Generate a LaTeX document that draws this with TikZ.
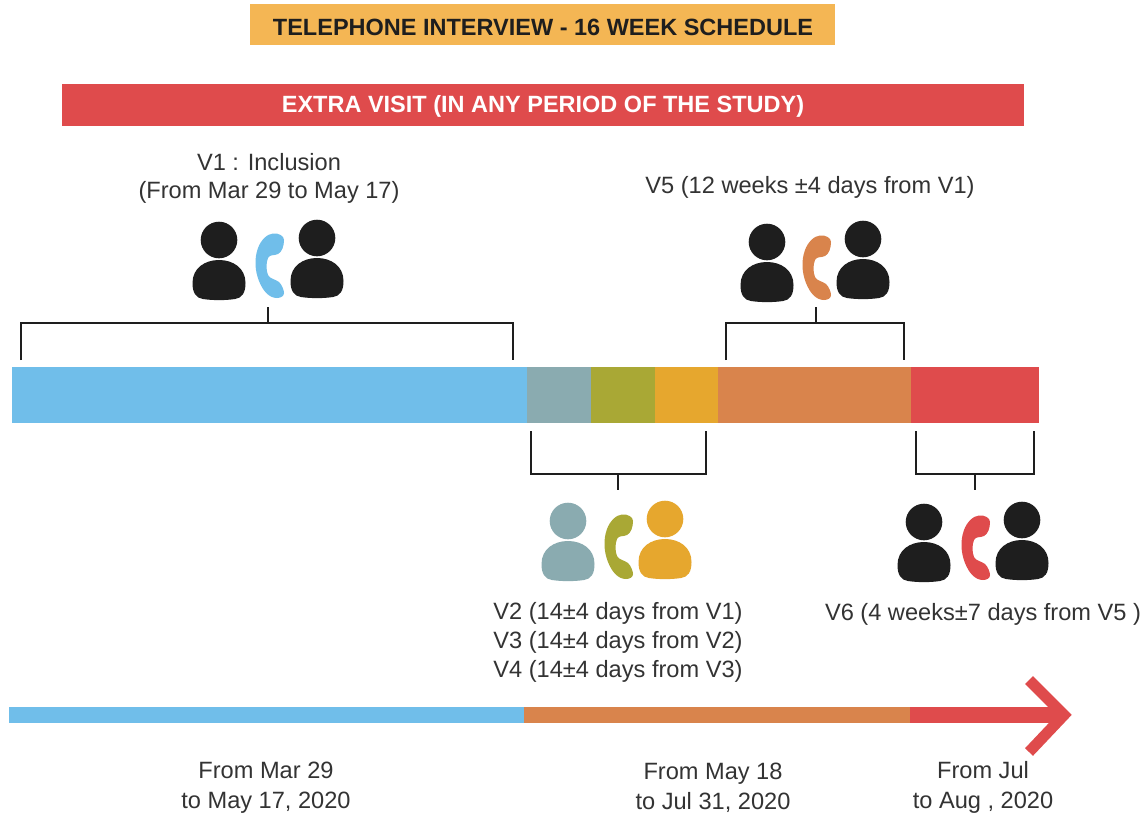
\documentclass[tikz,border=0pt]{standalone}
\usepackage{fontspec}
\setmainfont{Liberation Sans}
\definecolor{cblue}{HTML}{70BEEA}
\definecolor{cteal}{HTML}{8AABB0}
\definecolor{colive}{HTML}{A9A835}
\definecolor{cyel}{HTML}{E6A72E}
\definecolor{corg}{HTML}{D9844C}
\definecolor{cred}{HTML}{DF4B4C}
\definecolor{ctitle}{HTML}{F4B654}
\definecolor{cblk}{HTML}{1E1E1E}
\definecolor{ctxt}{HTML}{333333}
\tikzset{
  lbl/.style={text=ctxt,font=\fontsize{23.6}{29}\selectfont,align=center,inner sep=0pt},
  lblw/.style={lbl,font=\fontsize{23.6}{30}\selectfont},
  lbln/.style={lbl,font=\fontsize{23.6}{28}\selectfont},
  brk/.style={draw=cblk,line width=2.9pt,line cap=butt,line join=miter},
  pics/person/.style={code={
    \fill[#1] (0,-20) circle[radius=18.3];
    \fill[#1] (-26.5,23) .. controls (-26.5,8) and (-14,0) .. (0,0) .. controls (14,0) and (26.5,8) .. (26.5,23) .. controls (26.5,33) and (23,38) .. (16,39) .. controls (6,40.5) and (-6,40.5) .. (-16,39) .. controls (-23,38) and (-26.5,33) .. (-26.5,23) -- cycle;
  }},
  pics/phone/.style={code={
    \fill[#1] (18,0.5) .. controls (24,0) and (29,3) .. (29,7) .. controls (29,13) and (27,19) .. (23,21) .. controls (19,23) and (15,21) .. (13,25) .. controls (11,30) and (11,37) .. (13,42) .. controls (15,46) and (20,46) .. (24,49) .. controls (27,52) and (29,57) .. (29,60) .. controls (29,63) and (26,65) .. (22,65) .. controls (14,65) and (8,58) .. (4,48) .. controls (0,38) and (-1,26) .. (3,15) .. controls (6,7) and (12,1) .. (18,0.5) -- cycle;
  }},
}
\begin{document}
\begin{tikzpicture}[x=1pt,y=-1pt]
\useasboundingbox (0,0) rectangle (1147,816);
\fill[white] (0,0) rectangle (1147,816);
% titles
\fill[ctitle] (250,4) rectangle (835,45);
\fill[cred] (62,84) rectangle (1024,126);
\node[text=cblk,font=\bfseries\fontsize{23.5}{28}\selectfont,inner sep=0pt] (title) at (543,27) {TELEPHONE INTERVIEW - 16 WEEK SCHEDULE};
\node[text=white,font=\bfseries\fontsize{23.5}{28}\selectfont,inner sep=0pt] (extra) at (543,106) {EXTRA VISIT (IN ANY PERIOD OF THE STUDY)};
% main bar
\fill[cblue] (12,367) rectangle (527,423);
\fill[cteal] (527,367) rectangle (591,423);
\fill[colive] (591,367) rectangle (655,423);
\fill[cyel] (655,367) rectangle (718,423);
\fill[corg] (718,367) rectangle (911,423);
\fill[cred] (911,367) rectangle (1039,423);
% brackets
\draw[brk] (21,360) -- (21,323) -- (513,323) -- (513,360);
\draw[brk] (268,307) -- (268,323);
\draw[brk] (726,360) -- (726,323) -- (904,323) -- (904,360);
\draw[brk] (816,307) -- (816,323);
\draw[brk] (531,431) -- (531,474) -- (706,474) -- (706,431);
\draw[brk] (618,474) -- (618,490);
\draw[brk] (916,431) -- (916,474) -- (1034,474) -- (1034,431);
\draw[brk] (975,474) -- (975,490);
% icons
\pic at (219,260) {person=cblk};
\pic at (255,233) {phone=cblue};
\pic at (317,258) {person=cblk};
\pic at (767,262) {person=cblk};
\pic at (802,235) {phone=corg};
\pic at (863,259) {person=cblk};
\pic at (568,541) {person=cteal};
\pic at (604,514) {phone=colive};
\pic at (665,539) {person=cyel};
\pic at (924,542) {person=cblk};
\pic at (961,515) {phone=cred};
\pic at (1022,540) {person=cblk};
% labels
\node[lbln] (v1) at (269,178) {V1 : Inclusion\\(From Mar 29 to May 17)};
\node[lbl] (v5) at (810,187) {V5 (12 weeks ±4 days from V1)};
\node[lbl] (v24) at (618,642) {V2 (14±4 days from V1)\\V3 (14±4 days from V2)\\V4 (14±4 days from V3)};
\node[lbl] (v6) at (983,614) {V6 (4 weeks±7 days from V5 )};
% timeline
\fill[cblue] (9,707) rectangle (524,723);
\fill[corg] (524,707) rectangle (910,723);
\fill[cred] (910,707) rectangle (1062,723);
\draw[cred,line width=11pt,line cap=butt,line join=miter] (1029,680) -- (1064,715) -- (1029,752);
\node[lblw] (t1) at (266,787.5) {From Mar 29\\to May 17, 2020};
\node[lblw] (t2) at (713,787.5) {From May 18\\to Jul 31, 2020};
\node[lblw] (t3) at (983,787.5) {From Jul\\to Aug , 2020};
\end{tikzpicture}
\end{document}
